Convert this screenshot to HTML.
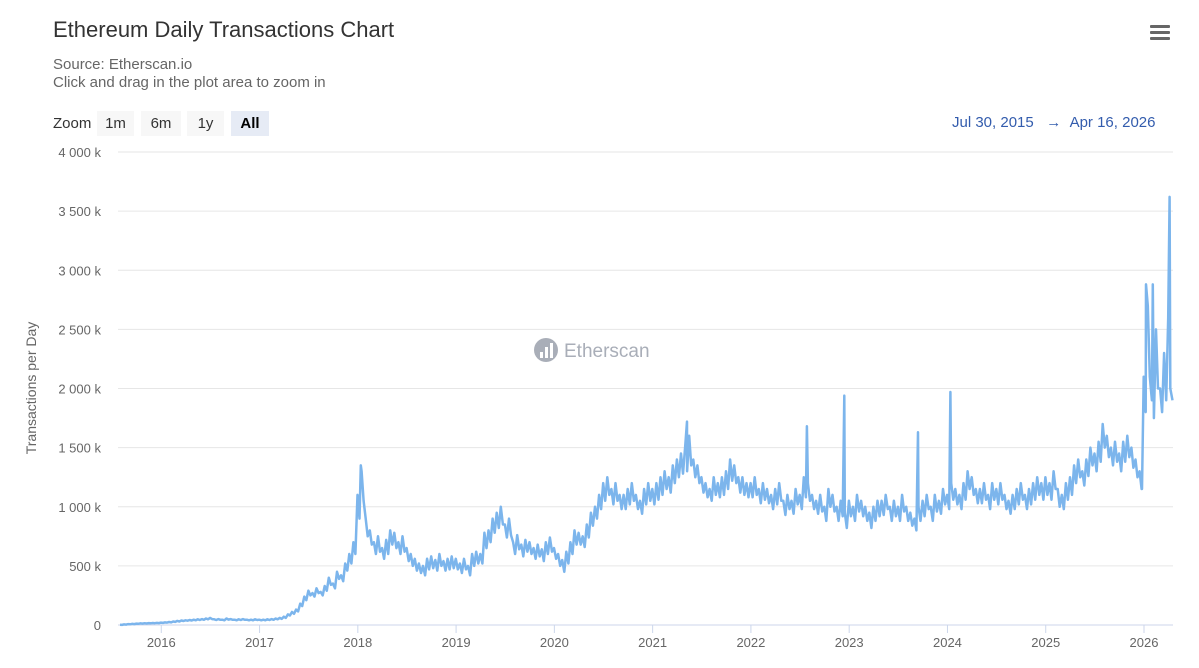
<!DOCTYPE html>
<html><head><meta charset="utf-8"><style>
body{margin:0;background:#fff;font-family:"Liberation Sans",sans-serif;}
#wrap{position:relative;width:1199px;height:668px;overflow:hidden;}
.t{position:absolute;white-space:nowrap;}
.btn{position:absolute;top:111px;height:25px;line-height:25px;background:#f7f7f7;color:#333;font-size:15px;text-align:center;}
</style></head><body>
<div id="wrap">
<div class="t" style="left:53px;top:17px;font-size:22px;color:#333;">Ethereum Daily Transactions Chart</div>
<div class="t" style="left:53px;top:56px;font-size:15px;color:#666;line-height:18px;">Source: Etherscan.io<br>Click and drag in the plot area to zoom in</div>
<div class="t" style="left:53px;top:115px;font-size:15px;color:#333;">Zoom</div>
<div class="btn" style="left:97px;width:37px;">1m</div>
<div class="btn" style="left:141px;width:40px;">6m</div>
<div class="btn" style="left:187px;width:37px;">1y</div>
<div class="btn" style="left:231px;width:38px;background:#e6ebf5;font-weight:bold;color:#000;">All</div>
<div class="t" style="left:952px;top:114px;font-size:15px;color:#335cad;">Jul 30, 2015 &nbsp;&nbsp;→ &nbsp;Apr 16, 2026</div>
<div style="position:absolute;left:1150px;top:25px;width:20px;height:16px;">
<div style="height:3px;background:#666;margin-bottom:3px;border-radius:1px"></div><div style="height:3px;background:#666;margin-bottom:3px;border-radius:1px"></div><div style="height:3px;background:#666;border-radius:1px"></div></div>
<svg id="chart" width="1199" height="668" style="position:absolute;left:0;top:0"></svg>
</div>
<script>
const yTicks=[0,500,1000,1500,2000,2500,3000,3500,4000];
const yTickLabels=["0","500 k","1 000 k","1 500 k","2 000 k","2 500 k","3 000 k","3 500 k","4 000 k"];
const xTicks=[2016,2017,2018,2019,2020,2021,2022,2023,2024,2025,2026];
const startYear=2015.58;
const stepYears=1/24;
const values=[
2,5,8,10,12,14,15,16,17,18,
20,22,25,30,35,38,40,42,45,48,50,55,60,48,50,45,55,50,45,48,50,45,45,48,
45,45,48,50,55,60,70,90,110,130,180,240,290,270,310,280,330,400,350,450,420,520,600,700,
1100,1300,900,800,700,750,650,720,800,780,700,750,650,600,560,520,500,560,580,550,600,540,560,580,
560,520,560,500,600,620,600,780,800,900,950,1000,850,900,700,760,680,720,700,650,680,640,700,740,
650,600,550,620,700,800,780,750,850,950,1000,1100,1200,1250,1150,1200,1100,1100,1150,1200,1100,1050,1150,1200,
1150,1200,1250,1300,1250,1350,1400,1450,1500,1600,1400,1350,1250,1200,1150,1250,1200,1250,1300,1400,1350,1250,1250,1200,
1200,1250,1150,1200,1150,1100,1150,1200,1050,1100,1050,1150,1100,1250,1200,1100,1050,1100,1000,1150,1100,1000,1050,950,
1050,1000,1100,1050,1000,950,1000,1050,1050,1100,1000,1050,1000,1100,1000,950,900,1000,1050,1100,1000,1100,1050,1150,
1100,1200,1150,1100,1200,1300,1250,1150,1150,1200,1100,1200,1150,1200,1100,1050,1100,1150,1200,1100,1150,1200,1250,1200,
1250,1200,1300,1150,1100,1200,1250,1350,1400,1300,1400,1500,1450,1550,1700,1600,1500,1550,1450,1550,1600,1500,1400,1300,
2100,2700,1900,2500,2000,2300,2600];
const lowValues=[
1,3,6,8,10,12,13,14,15,16,
18,20,22,26,30,34,36,38,40,42,44,48,50,42,44,40,46,44,40,42,44,40,40,42,
40,40,42,44,48,52,60,80,95,115,160,210,250,240,270,250,290,340,310,390,370,460,520,600,
900,1050,750,680,600,620,560,600,680,650,600,620,540,500,460,440,420,470,480,460,500,460,470,480,
470,440,470,420,500,520,520,650,700,780,820,850,740,760,600,640,580,620,600,560,580,540,600,620,
560,500,450,520,600,680,680,660,740,840,900,980,1050,1100,1020,1050,980,980,1020,1050,980,940,1020,1050,
1020,1060,1100,1150,1120,1200,1250,1280,1300,1350,1250,1200,1120,1080,1050,1100,1080,1100,1150,1220,1200,1120,1100,1080,
1080,1100,1030,1060,1030,980,1020,1050,930,980,940,1020,980,1080,1050,980,940,960,880,1000,960,880,920,820,
920,880,960,920,880,820,880,920,930,980,880,920,880,960,880,840,800,880,920,980,880,960,940,1020,
980,1060,1020,980,1060,1150,1100,1030,1030,1060,980,1060,1020,1060,980,940,980,1020,1060,980,1020,1060,1100,1060,
1100,1060,1150,1000,980,1060,1100,1200,1250,1180,1260,1350,1300,1380,1500,1420,1350,1380,1300,1380,1420,1330,1250,1150,
1800,2100,1750,2000,1800,1900,2000];
const spikeDates=[2018.03,2021.35,2022.57,2022.95,2023.7,2024.03,2025.98,2026.02,2026.09,2026.26,2026.29];
const spikeValues=[1350,1720,1680,1940,1630,1970,1150,2880,2880,3620,1900];

const NS="http://www.w3.org/2000/svg";
const svg=document.getElementById('chart');
const X0=118,X1=1173,Y0=625,Y1=152;
const x=d=>120+(d-2015.58)*(1172.5-120)/(2026.29-2015.58);
const y=v=>Y0-(v/4000)*(Y0-Y1);
function mk(tag,attrs){const e=document.createElementNS(NS,tag);for(const k in attrs)e.setAttribute(k,attrs[k]);svg.appendChild(e);return e;}
yTicks.forEach((v,i)=>{
 const g=mk('line',{x1:X0,x2:X1,y1:y(v),y2:y(v),stroke:v===0?'#ccd6eb':'#e6e6e6','stroke-width':1});
 
 
 const t=mk('text',{x:101,y:y(v)+5,'text-anchor':'end','font-size':13,fill:'#666','font-family':'Liberation Sans, sans-serif'});
 t.textContent=yTickLabels[i];
 
 
});
xTicks.forEach(yr=>{
 const l=mk('line',{x1:x(yr),x2:x(yr),y1:Y0,y2:Y0+8,stroke:'#ccd6eb'});
 
 
 const t=mk('text',{x:x(yr),y:647,'text-anchor':'middle','font-size':13,fill:'#666','font-family':'Liberation Sans, sans-serif'});
 t.textContent=String(yr);
 
 
});
const yt=mk('text',{x:36,y:388,'text-anchor':'middle','font-size':14,fill:'#666','font-family':'Liberation Sans, sans-serif',transform:'rotate(-90 36 388)'});
yt.textContent='Transactions per Day';


const wm=mk('g',{});


const c=document.createElementNS(NS,'circle');c.setAttribute('cx',546);c.setAttribute('cy',350);c.setAttribute('r',12);c.setAttribute('fill','#a9aeb8');wm.appendChild(c);
[[-6,2],[-1,-3],[4,-7]].forEach(p=>{const r=document.createElementNS(NS,'rect');r.setAttribute('x',546+p[0]);r.setAttribute('y',350+p[1]);r.setAttribute('width',3);r.setAttribute('height',8-p[1]);r.setAttribute('fill','#fff');wm.appendChild(r);});
const wt=document.createElementNS(NS,'text');wt.setAttribute('x',564);wt.setAttribute('y',357);wt.setAttribute('font-size',19);wt.setAttribute('fill','#a9aeb8');wt.setAttribute('font-family','Liberation Sans, sans-serif');wt.textContent='Etherscan';wm.appendChild(wt);
const pts=[];
values.forEach((v,i)=>{pts.push([startYear+i*stepYears,v]);pts.push([startYear+(i+0.5)*stepYears,lowValues[i]]);});
spikeDates.forEach((d,i)=>pts.push([d,spikeValues[i]]));
pts.sort((a,b)=>a[0]-b[0]);
const line=mk('polyline',{points:pts.filter(p=>p[0]<=2026.3).map(p=>x(p[0]).toFixed(1)+','+y(p[1]).toFixed(1)).join(' '),fill:'none',stroke:'#7cb5ec','stroke-width':2.5,'stroke-linejoin':'round'});


</script>
</body></html>
